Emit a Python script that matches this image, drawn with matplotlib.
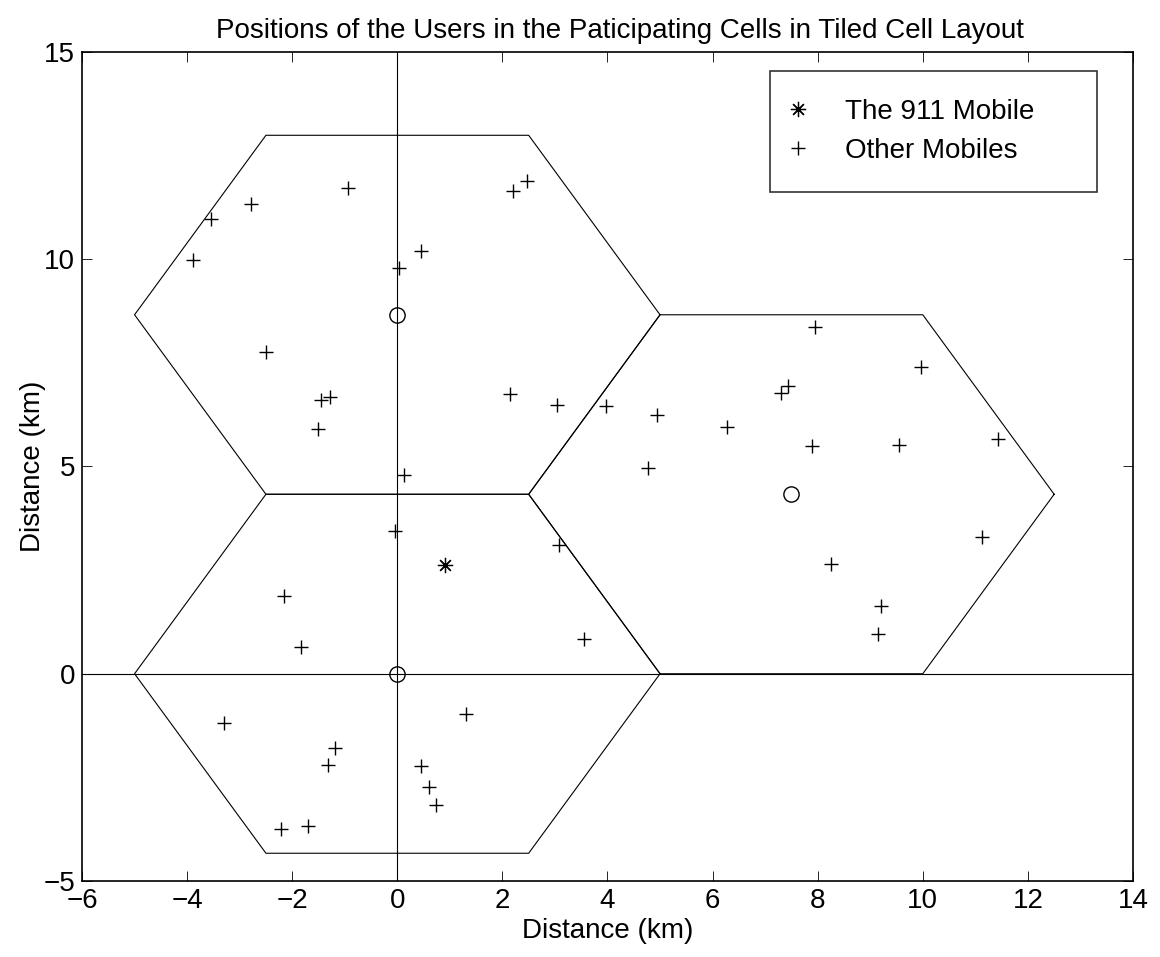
import matplotlib.pyplot as plt
import numpy as np

plt.rcParams['font.family'] = ['Liberation Sans', 'DejaVu Sans']

# cell layout (km)
cell_radius = 5.0
cell_cx = [0.0, 0.0, 7.5]
cell_cy = [0.0, 8.66, 4.33]

# the emergency caller
mobile_911_x = [0.91]
mobile_911_y = [2.63]

# all other users in the participating cells
other_x = [-0.93, -2.78, -3.54, -3.89, 0.46, 0.03, 2.20, 2.47, 7.95,
           -2.50, -1.45, -1.29, -1.50, 0.13, -0.04, -2.15,
           2.15, 3.03, 3.97, 4.94, 6.27, 7.31, 7.44, 4.78, 3.08,
           9.97, 7.89, 9.54, 11.44, 11.13, 8.25, 9.20, 9.14,
           3.56, 1.31,
           -1.83, -3.30, -1.18, -1.32, 0.46, 0.60, 0.74, -2.22, -1.69]
other_y = [11.71, 11.33, 10.98, 9.97, 10.19, 9.79, 11.64, 11.88, 8.37,
           7.75, 6.60, 6.67, 5.90, 4.79, 3.45, 1.88,
           6.74, 6.48, 6.47, 6.24, 5.96, 6.77, 6.94, 4.97, 3.11,
           7.41, 5.49, 5.51, 5.66, 3.31, 2.65, 1.64, 0.96,
           0.83, -0.97,
           0.65, -1.20, -1.80, -2.19, -2.23, -2.74, -3.17, -3.74, -3.67]

fig = plt.figure(figsize=(11.6, 9.57), dpi=100)
ax = fig.add_axes([0.0707, 0.0794, 0.906, 0.8663])

lw = 0.8
fs = 20
ang = np.deg2rad(np.arange(0, 361, 60))
for cx, cy in zip(cell_cx, cell_cy):
    ax.plot(cx + cell_radius * np.cos(ang), cy + cell_radius * np.sin(ang),
            color='k', lw=lw)
ax.axhline(0, color='k', lw=lw)
ax.axvline(0, color='k', lw=lw)

ax.plot(mobile_911_x, mobile_911_y, ls='none', marker=(8, 2, 0), ms=11,
        mec='k', mew=0.9, color='k', label='The 911 Mobile')
ax.plot(other_x, other_y, ls='none', marker='+', ms=10, mew=1.0,
        color='k', label='Other Mobiles')
ax.plot(cell_cx, cell_cy, ls='none', marker='o', ms=11, mfc='none',
        mec='k', mew=1.0)

ax.set_xlim(-6, 14)
ax.set_ylim(-5, 15)
ax.set_xticks(np.arange(-6, 15, 2))
ax.set_yticks(np.arange(-5, 16, 5))
ax.tick_params(direction='in', top=True, right=True, length=7, width=0.6,
               labelsize=fs, pad=5)
for s in ax.spines.values():
    s.set_linewidth(1.2)

ax.set_xlabel('Distance (km)', fontsize=fs, labelpad=3)
ax.set_ylabel('Distance (km)', fontsize=fs, labelpad=-2)
ax.set_title('Positions of the Users in the Paticipating Cells in Tiled Cell Layout',
             fontsize=fs, pad=10, x=0.512)

leg = ax.legend(loc='upper left', bbox_to_anchor=(0.655, 0.023, 0.311, 0.954),
                mode='expand', fontsize=fs, frameon=True, fancybox=False,
                edgecolor='k', borderpad=1.0, handlelength=0.0,
                handletextpad=1.7, labelspacing=0.48, borderaxespad=0,
                numpoints=1)
leg.get_frame().set_linewidth(1.2)

fig.savefig('out.png', dpi=100, facecolor='white')
